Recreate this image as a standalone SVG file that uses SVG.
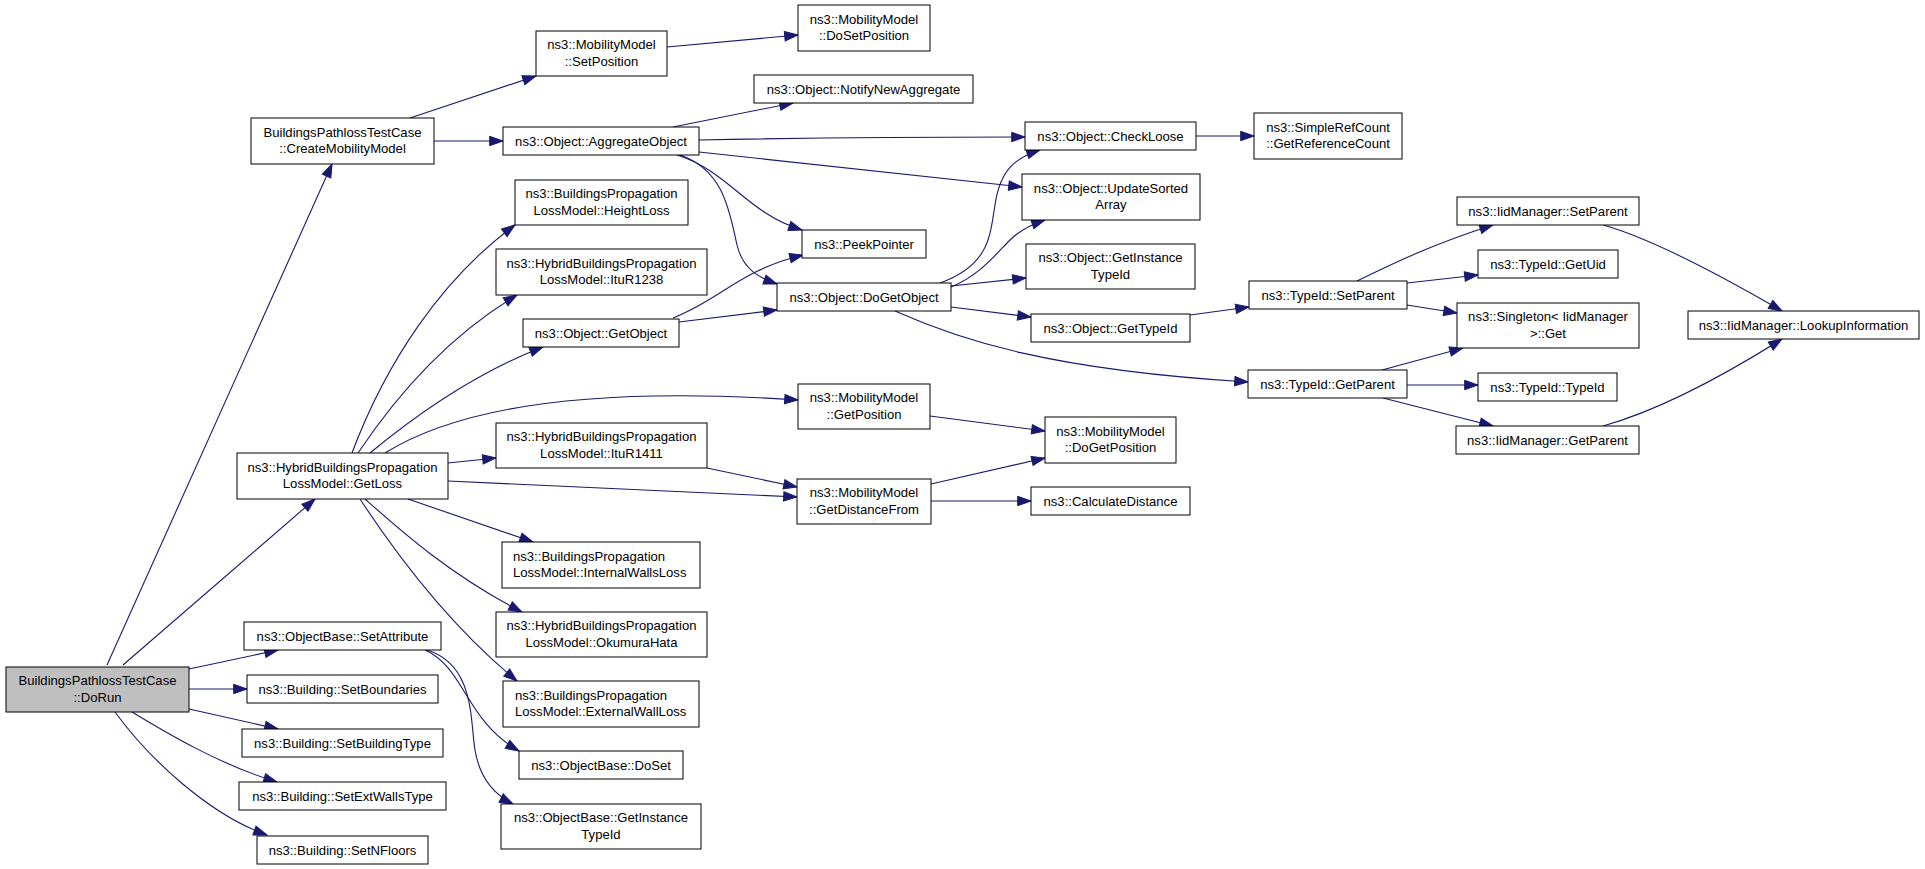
<svg xmlns="http://www.w3.org/2000/svg" width="1925" height="869" viewBox="0 0 1925 869">
<style>
.node rect{fill:#fff;stroke:#000;stroke-width:1}
.node.root rect{fill:#bfbfbf}
.node text{font-family:"Liberation Sans",Arial,Helvetica,sans-serif;font-size:13.1px;fill:#000;text-anchor:middle}
.node text.l{text-anchor:start}
.edges path{fill:none;stroke:#191970;stroke-width:1.1;marker-end:url(#ah)}
</style>
<defs>
<marker id="ah" markerUnits="userSpaceOnUse" markerWidth="16" markerHeight="12" viewBox="0 -6 14 12" refX="13.3" refY="0" orient="auto">
<path d="M0,-4.7 L13.3,0 L0,4.7 z" fill="#191970" stroke="#191970" stroke-width="1"/>
</marker>
</defs>
<rect width="1925" height="869" fill="#fff"/>
<g class="edges" id="connectors">
<path d="M107,665 L332,164"/>
<path d="M123,665 L315,499"/>
<path d="M189,669 L278,650"/>
<path d="M189,689 L247,689"/>
<path d="M189,709 L278,729"/>
<path d="M132,712 C165,732 220,765 277,782"/>
<path d="M115,712 C150,760 210,815 267,835"/>
<path d="M410,118 L536,76"/>
<path d="M434,141 L503,141"/>
<path d="M667,47 L798,35"/>
<path d="M673,127 L793,103"/>
<path d="M699,140 C800,138 900,137 1025,137"/>
<path d="M699,152 L1022,187"/>
<path d="M677,155 C730,172 745,212 802,230"/>
<path d="M680,155 C725,170 730,215 737,245 C743,270 760,278 777,284"/>
<path d="M352,453 C385,365 440,280 515,225"/>
<path d="M358,453 C400,390 450,335 517,295"/>
<path d="M370,453 C410,420 470,375 543,347"/>
<path d="M385,453 C470,400 620,388 798,400"/>
<path d="M448,463 L496,458"/>
<path d="M448,481 L797,497"/>
<path d="M408,499 L533,542"/>
<path d="M365,499 C400,530 450,575 522,612"/>
<path d="M360,499 C400,560 455,630 517,681"/>
<path d="M425,650 C465,668 465,720 519,751"/>
<path d="M427,650 C475,665 470,720 475,750 C480,780 495,795 513,804"/>
<path d="M673,318 C720,300 740,270 803,255"/>
<path d="M679,322 L777,310"/>
<path d="M940,283 C990,265 990,235 995,205 C1000,170 1015,158 1040,150"/>
<path d="M951,287 C980,275 995,255 1010,240 C1020,230 1030,225 1045,220"/>
<path d="M951,286 L1026,278"/>
<path d="M951,307 L1031,317"/>
<path d="M895,311 C960,340 1050,370 1248,382"/>
<path d="M1196,136 L1254,136"/>
<path d="M1190,315 L1249,307"/>
<path d="M1357,281 C1390,265 1430,245 1493,225"/>
<path d="M1407,283 L1478,275"/>
<path d="M1407,305 L1457,313"/>
<path d="M1382,370 L1463,348"/>
<path d="M1407,385 L1478,385"/>
<path d="M1383,398 L1493,426"/>
<path d="M1603,225 C1650,238 1720,275 1782,311"/>
<path d="M1603,426 C1660,410 1720,378 1782,339"/>
<path d="M930,416 L1045,431"/>
<path d="M707,468 L797,487"/>
<path d="M931,484 L1045,458"/>
<path d="M931,501 L1031,501"/>
</g>
<g class="node root" id="n_dorun"><rect x="6" y="667" width="183" height="45"/><text x="97.5" y="685">BuildingsPathlossTestCase</text><text x="97.5" y="702">::DoRun</text></g>
<g class="node" id="n_cmm"><rect x="251" y="118" width="183" height="46"/><text x="342.5" y="136.5">BuildingsPathlossTestCase</text><text x="342.5" y="153.3">::CreateMobilityModel</text></g>
<g class="node" id="n_getloss"><rect x="237" y="453" width="211" height="46"/><text x="342.5" y="471.5">ns3::HybridBuildingsPropagation</text><text x="342.5" y="488.3">LossModel::GetLoss</text></g>
<g class="node" id="n_setattr"><rect x="244" y="622" width="197" height="28"/><text x="342.5" y="640.5">ns3::ObjectBase::SetAttribute</text></g>
<g class="node" id="n_setbound"><rect x="247" y="675" width="191" height="28"/><text x="342.5" y="693.5">ns3::Building::SetBoundaries</text></g>
<g class="node" id="n_setbtype"><rect x="242" y="729" width="201" height="28"/><text x="342.5" y="747.5">ns3::Building::SetBuildingType</text></g>
<g class="node" id="n_setext"><rect x="239" y="782" width="207" height="28"/><text x="342.5" y="800.5">ns3::Building::SetExtWallsType</text></g>
<g class="node" id="n_setnfl"><rect x="257" y="836" width="171" height="28"/><text x="342.5" y="854.5">ns3::Building::SetNFloors</text></g>
<g class="node" id="n_setpos"><rect x="536" y="31" width="131" height="45"/><text x="601.5" y="49.3">ns3::MobilityModel</text><text x="601.5" y="66">::SetPosition</text></g>
<g class="node" id="n_aggr"><rect x="503" y="127" width="196" height="28"/><text x="601" y="145.5">ns3::Object::AggregateObject</text></g>
<g class="node" id="n_height"><rect x="515" y="180" width="173" height="45"/><text x="601.5" y="198.3">ns3::BuildingsPropagation</text><text x="601.5" y="215">LossModel::HeightLoss</text></g>
<g class="node" id="n_itu1238"><rect x="496" y="249" width="211" height="46"/><text x="601.5" y="267.5">ns3::HybridBuildingsPropagation</text><text x="601.5" y="284.3">LossModel::ItuR1238</text></g>
<g class="node" id="n_getobj"><rect x="523" y="319" width="156" height="28"/><text x="601" y="337.5">ns3::Object::GetObject</text></g>
<g class="node" id="n_itu1411"><rect x="496" y="423" width="211" height="45"/><text x="601.5" y="441.3">ns3::HybridBuildingsPropagation</text><text x="601.5" y="458">LossModel::ItuR1411</text></g>
<g class="node" id="n_intwall"><rect x="502" y="542" width="198" height="46"/><text class="l" x="513" y="560.5">ns3::BuildingsPropagation</text><text class="l" x="513" y="577.3">LossModel::InternalWallsLoss</text></g>
<g class="node" id="n_okumura"><rect x="496" y="612" width="211" height="45"/><text x="601.5" y="630.3">ns3::HybridBuildingsPropagation</text><text x="601.5" y="647">LossModel::OkumuraHata</text></g>
<g class="node" id="n_extwall"><rect x="503" y="681" width="196" height="46"/><text class="l" x="515" y="699.5">ns3::BuildingsPropagation</text><text class="l" x="515" y="716.3">LossModel::ExternalWallLoss</text></g>
<g class="node" id="n_doset"><rect x="519" y="751" width="164" height="28"/><text x="601" y="769.5">ns3::ObjectBase::DoSet</text></g>
<g class="node" id="n_obgit"><rect x="501" y="804" width="200" height="45"/><text x="601" y="822.3">ns3::ObjectBase::GetInstance</text><text x="601" y="839">TypeId</text></g>
<g class="node" id="n_dosetpos"><rect x="798" y="5" width="132" height="46"/><text x="864" y="23.5">ns3::MobilityModel</text><text x="864" y="40.3">::DoSetPosition</text></g>
<g class="node" id="n_notify"><rect x="754" y="75" width="219" height="28"/><text x="863.5" y="93.5">ns3::Object::NotifyNewAggregate</text></g>
<g class="node" id="n_peek"><rect x="802" y="230" width="124" height="28"/><text x="864" y="248.5">ns3::PeekPointer</text></g>
<g class="node" id="n_dogetobj"><rect x="777" y="283" width="174" height="28"/><text x="864" y="301.5">ns3::Object::DoGetObject</text></g>
<g class="node" id="n_getposition"><rect x="798" y="384" width="132" height="45"/><text x="864" y="402.3">ns3::MobilityModel</text><text x="864" y="419">::GetPosition</text></g>
<g class="node" id="n_getdist"><rect x="797" y="479" width="134" height="45"/><text x="864" y="497.3">ns3::MobilityModel</text><text x="864" y="514">::GetDistanceFrom</text></g>
<g class="node" id="n_checkloose"><rect x="1025" y="122" width="171" height="28"/><text x="1110.5" y="140.5">ns3::Object::CheckLoose</text></g>
<g class="node" id="n_update"><rect x="1022" y="174" width="178" height="46"/><text x="1111" y="192.5">ns3::Object::UpdateSorted</text><text x="1111" y="209.3">Array</text></g>
<g class="node" id="n_ogit"><rect x="1026" y="244" width="169" height="45"/><text x="1110.5" y="262.3">ns3::Object::GetInstance</text><text x="1110.5" y="279">TypeId</text></g>
<g class="node" id="n_gettypeid"><rect x="1031" y="314" width="159" height="28"/><text x="1110.5" y="332.5">ns3::Object::GetTypeId</text></g>
<g class="node" id="n_dogetposition"><rect x="1045" y="417" width="131" height="46"/><text x="1110.5" y="435.5">ns3::MobilityModel</text><text x="1110.5" y="452.3">::DoGetPosition</text></g>
<g class="node" id="n_calcdist"><rect x="1031" y="487" width="159" height="28"/><text x="1110.5" y="505.5">ns3::CalculateDistance</text></g>
<g class="node" id="n_srefc"><rect x="1254" y="113" width="148" height="46"/><text x="1328" y="131.5">ns3::SimpleRefCount</text><text x="1328" y="148.3">::GetReferenceCount</text></g>
<g class="node" id="n_tsetparent"><rect x="1249" y="281" width="158" height="28"/><text x="1328" y="299.5">ns3::TypeId::SetParent</text></g>
<g class="node" id="n_tgetparent"><rect x="1248" y="370" width="159" height="28"/><text x="1327.5" y="388.5">ns3::TypeId::GetParent</text></g>
<g class="node" id="n_isetparent"><rect x="1457" y="197" width="182" height="28"/><text x="1548" y="215.5">ns3::IidManager::SetParent</text></g>
<g class="node" id="n_getuid"><rect x="1478" y="250" width="140" height="28"/><text x="1548" y="268.5">ns3::TypeId::GetUid</text></g>
<g class="node" id="n_singleton"><rect x="1457" y="303" width="182" height="45"/><text x="1548" y="321.3">ns3::Singleton&lt; IidManager</text><text x="1548" y="338">&gt;::Get</text></g>
<g class="node" id="n_typeid"><rect x="1478" y="373" width="139" height="28"/><text x="1547.5" y="391.5">ns3::TypeId::TypeId</text></g>
<g class="node" id="n_igetparent"><rect x="1456" y="426" width="183" height="28"/><text x="1547.5" y="444.5">ns3::IidManager::GetParent</text></g>
<g class="node" id="n_lookup"><rect x="1688" y="311" width="231" height="28"/><text x="1803.5" y="329.5">ns3::IidManager::LookupInformation</text></g>
</svg>
